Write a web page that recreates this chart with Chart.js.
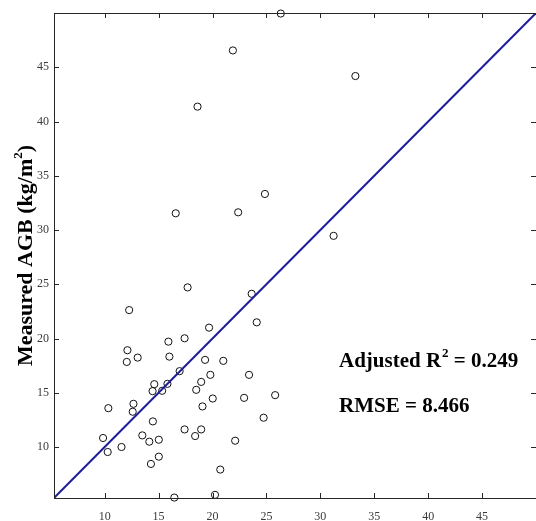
<!DOCTYPE html>
<html>
<head>
<meta charset="utf-8">
<script src="https://cdn.jsdelivr.net/npm/chart.js@4/dist/chart.umd.min.js"></script>
<style>
  html, body { margin: 0; padding: 0; background: #fff; overflow: hidden; }
  #wrap { width: 541px; height: 521px; }
</style>
</head>
<body>
<div id="wrap"><canvas id="agbChart" width="541" height="521"></canvas></div>
<script>
// predicted vs measured AGB (kg/m2)
const predicted = [
    17.69, 12.27, 12.11, 12.05, 13.06, 15.91, 16.00, 17.41, 19.68, 19.31,
    21.00, 16.95, 19.80, 18.95, 18.49, 15.82, 14.60, 14.44, 15.33, 20.02,
    19.07, 12.67, 12.60, 10.34, 14.47, 17.41, 18.95, 18.39, 13.49, 14.14,
    15.02, 9.85, 10.28, 11.56, 15.02, 14.29, 22.10, 20.72, 22.93, 23.39,
    24.10, 23.63, 24.74, 16.46, 20.23, 25.81, 21.89, 18.61, 16.59, 22.38,
    24.86, 26.33, 33.25, 31.23
];
const measured = [
    24.71, 22.62, 18.92, 17.84, 18.24, 19.71, 18.33, 20.02, 21.00, 18.03,
    17.94, 16.99, 16.65, 16.00, 15.27, 15.82, 15.79, 15.15, 15.18, 14.47,
    13.74, 13.98, 13.25, 13.58, 12.36, 11.62, 11.62, 11.01, 11.07, 10.49,
    10.67, 10.83, 9.54, 10.00, 9.11, 8.44, 10.58, 7.92, 14.53, 16.65,
    21.49, 24.12, 12.70, 5.34, 5.59, 14.78, 46.55, 41.37, 31.54, 31.63,
    33.32, 49.95, 44.19, 29.46
];
// 1:1 reference line
const oneToOne = [5.3, 50];
const axisMin = 5.3;
const axisMax = 50;
const tickValues = [10, 15, 20, 25, 30, 35, 40, 45];

const statsText = ['Adjusted R', '2', ' = 0.249'];
const rmseText = 'RMSE = 8.466';

const serif = '"Liberation Serif", "Times New Roman", serif';

const points = predicted.map(function(x, i) { return { x: x, y: measured[i] }; });
const linePts = oneToOne.map(function(v) { return { x: v, y: v }; });

// box around the plot with inward tick marks on all four sides
const boxPlugin = {
    id: 'boxTicks',
    afterDatasetsDraw: function(chart) {
        const c = chart.ctx;
        const a = chart.chartArea;
        const xs = chart.scales.x;
        const ys = chart.scales.y;
        c.save();
        c.strokeStyle = '#262626';
        c.lineWidth = 1;
        c.strokeRect(a.left + 0.5, a.top + 0.5, a.right - a.left, a.bottom - a.top);
        c.beginPath();
        tickValues.forEach(function(v) {
            const px = Math.round(xs.getPixelForValue(v)) + 0.5;
            c.moveTo(px, a.bottom); c.lineTo(px, a.bottom - 5);
            c.moveTo(px, a.top); c.lineTo(px, a.top + 5);
            const py = Math.round(ys.getPixelForValue(v)) + 0.5;
            c.moveTo(a.left, py); c.lineTo(a.left + 5, py);
            c.moveTo(a.right, py); c.lineTo(a.right - 5, py);
        });
        c.stroke();
        c.restore();
    },
    afterDraw: function(chart) {
        const c = chart.ctx;
        const a = chart.chartArea;
        c.save();
        c.fillStyle = '#000';
        c.textBaseline = 'alphabetic';

        // y axis title, rotated, with superscript
        const big = 'bold 22px ' + serif;
        const small = 'bold 13px ' + serif;
        c.font = big;
        const p1 = 'Measured AGB (kg/m';
        const w1 = c.measureText(p1).width;
        const w3 = c.measureText(')').width;
        c.font = small;
        const w2 = c.measureText('2').width;
        const total = w1 + w2 + w3;
        c.translate(32, (a.top + a.bottom) / 2);
        c.rotate(-Math.PI / 2);
        let x = -total / 2;
        c.font = big;
        c.fillText(p1, x, 0);
        x += w1;
        c.font = small;
        c.fillText('2', x, -10);
        x += w2;
        c.font = big;
        c.fillText(')', x, 0);
        c.setTransform(1, 0, 0, 1, 0, 0);

        // fit statistics
        const f = 'bold 21px ' + serif;
        let tx = 339;
        c.font = f;
        c.fillText(statsText[0], tx, 367);
        tx += c.measureText(statsText[0]).width + 1;
        c.font = small;
        c.fillText(statsText[1], tx, 357);
        tx += c.measureText(statsText[1]).width;
        c.font = f;
        c.fillText(statsText[2], tx, 367);
        c.fillText(rmseText, 339, 412);
        c.restore();
    }
};

new Chart(document.getElementById('agbChart'), {
    data: {
        datasets: [
            {
                type: 'line',
                data: linePts,
                borderColor: '#1d1d9b',
                borderWidth: 2,
                pointRadius: 0,
                fill: false
            },
            {
                type: 'scatter',
                data: points,
                pointStyle: 'circle',
                pointRadius: 3.6,
                borderColor: '#111',
                backgroundColor: 'rgba(255,255,255,0)',
                borderWidth: 1,
                clip: false
            }
        ]
    },
    options: {
        responsive: false,
        animation: false,
        layout: { padding: { top: 13, right: 2, left: 0, bottom: 0 } },
        plugins: {
            legend: { display: false },
            tooltip: { enabled: false }
        },
        scales: {
            x: {
                type: 'linear',
                position: 'bottom',
                min: axisMin,
                max: axisMax,
                grid: { display: false, drawTicks: false },
                border: { display: false },
                afterBuildTicks: function(scale) {
                    scale.ticks = tickValues.map(function(v) { return { value: v }; });
                },
                afterFit: function(scale) { scale.height = 23; },
                ticks: {
                    padding: 12,
                    maxRotation: 0,
                    color: '#3a3a3a',
                    font: { family: serif, size: 12 }
                }
            },
            y: {
                type: 'linear',
                position: 'left',
                min: axisMin,
                max: axisMax,
                grid: { display: false, drawTicks: false },
                border: { display: false },
                afterBuildTicks: function(scale) {
                    scale.ticks = tickValues.map(function(v) { return { value: v }; });
                },
                afterFit: function(scale) { scale.width = 54; },
                ticks: {
                    padding: 5,
                    color: '#3a3a3a',
                    font: { family: serif, size: 12 }
                }
            }
        }
    },
    plugins: [boxPlugin]
});
</script>
</body>
</html>
